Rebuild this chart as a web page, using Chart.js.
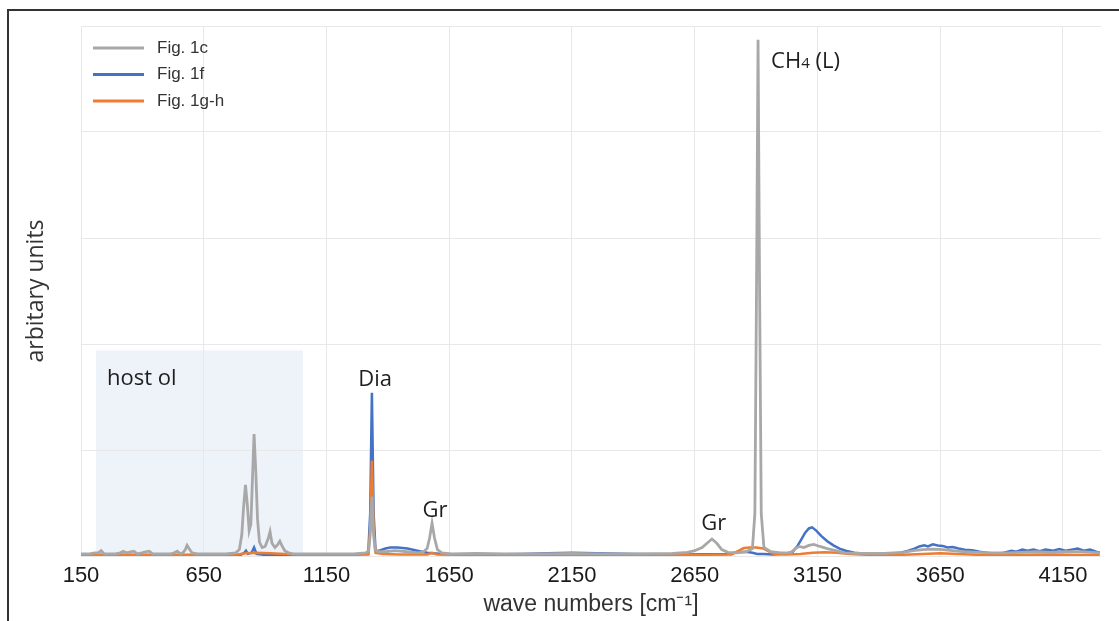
<!DOCTYPE html>
<html>
<head>
<meta charset="utf-8">
<title>Raman spectra</title>
<script src="https://cdn.jsdelivr.net/npm/chart.js@4.4.1/dist/chart.umd.min.js"></script>
<style>
    html, body { margin: 0; padding: 0; background: #fff; overflow: hidden; }
    #wrap { position: relative; width: 1119px; height: 621px; }
    #frame { position: absolute; left: 7px; top: 9px; width: 1300px; height: 800px;
             border-top: 2px solid #333; border-left: 2px solid #333; pointer-events: none; }
</style>
</head>
<body>
<div id="wrap">
    <canvas id="chartRaman" width="1119" height="621"></canvas>
    <div id="frame"></div>
</div>
<script>
// ====== datos ======
const tickLabels = [150, 650, 1150, 1650, 2150, 2650, 3150, 3650, 4150];
const seriesNames = ["Fig. 1c", "Fig. 1f", "Fig. 1g-h"];

// [wave number, intensity]
const fig1c = [
    [150,0.02],[185,0.02],[205,0.03],[220,0.03],[232,0.05],[245,0.02],[290,0.02],[310,0.03],
    [322,0.045],[335,0.03],[352,0.04],[365,0.045],[380,0.02],[398,0.03],[412,0.04],[428,0.045],
    [442,0.02],[470,0.02],[515,0.02],[530,0.03],[542,0.045],[555,0.02],[565,0.03],[575,0.06],
    [582,0.1],[590,0.07],[602,0.03],[625,0.02],[680,0.02],[740,0.02],[780,0.03],[795,0.06],
    [805,0.2],[812,0.45],[820,0.67],[827,0.5],[835,0.24],[842,0.3],[848,0.7],[855,1.15],
    [862,0.8],[869,0.35],[877,0.13],[888,0.08],[900,0.09],[912,0.16],[920,0.23],[928,0.12],
    [940,0.08],[952,0.11],[960,0.14],[968,0.1],[980,0.05],[995,0.03],[1015,0.02],[1080,0.02],
    [1180,0.02],[1260,0.02],[1310,0.03],[1322,0.05],[1328,0.2],[1335,0.56],[1342,0.2],[1348,0.06],
    [1360,0.04],[1390,0.04],[1430,0.05],[1480,0.04],[1520,0.03],[1545,0.04],[1560,0.07],[1570,0.17],
    [1580,0.31],[1590,0.17],[1602,0.06],[1620,0.03],[1660,0.02],[1760,0.025],[1880,0.02],[2000,0.02],
    [2150,0.025],[2280,0.02],[2420,0.02],[2560,0.025],[2620,0.035],[2650,0.05],[2680,0.08],[2700,0.12],
    [2720,0.16],[2740,0.12],[2760,0.06],[2785,0.035],[2820,0.03],[2860,0.04],[2885,0.07],[2895,0.4],
    [2902,2.6],[2908,4.87],[2914,2.6],[2921,0.4],[2932,0.08],[2960,0.04],[3000,0.03],[3040,0.03],
    [3060,0.07],[3075,0.09],[3095,0.08],[3115,0.1],[3135,0.11],[3160,0.09],[3190,0.07],[3225,0.05],
    [3260,0.03],[3320,0.025],[3420,0.025],[3500,0.035],[3540,0.05],[3580,0.06],[3620,0.065],[3660,0.06],
    [3700,0.05],[3750,0.04],[3800,0.035],[3860,0.03],[3920,0.03],[3980,0.035],[4040,0.04],[4100,0.035],
    [4160,0.04],[4220,0.04],[4270,0.035],[4300,0.03]
];

const fig1f = [
    [150,0.01],[400,0.01],[700,0.01],[800,0.01],[815,0.03],[822,0.05],[830,0.02],[845,0.03],
    [855,0.08],[865,0.02],[900,0.01],[1200,0.01],[1320,0.02],[1328,0.4],[1335,1.54],[1342,0.4],
    [1350,0.05],[1365,0.05],[1390,0.07],[1410,0.08],[1440,0.08],[1480,0.07],[1520,0.05],[1560,0.03],
    [1620,0.02],[1800,0.015],[1950,0.02],[2050,0.025],[2150,0.03],[2250,0.025],[2400,0.02],[2600,0.015],
    [2780,0.02],[2830,0.035],[2860,0.04],[2885,0.03],[2905,0.02],[2930,0.02],[2970,0.015],[3020,0.02],
    [3050,0.04],[3070,0.1],[3085,0.16],[3100,0.22],[3115,0.26],[3128,0.27],[3145,0.24],[3165,0.19],
    [3190,0.14],[3215,0.1],[3240,0.07],[3265,0.05],[3300,0.03],[3360,0.02],[3440,0.02],[3490,0.03],
    [3520,0.05],[3545,0.07],[3565,0.09],[3585,0.1],[3600,0.09],[3620,0.11],[3640,0.1],[3660,0.095],
    [3680,0.08],[3700,0.085],[3725,0.07],[3750,0.06],[3780,0.055],[3810,0.04],[3840,0.03],[3880,0.02],
    [3910,0.03],[3940,0.05],[3960,0.04],[3985,0.06],[4005,0.05],[4030,0.06],[4055,0.045],[4080,0.06],
    [4110,0.05],[4135,0.065],[4160,0.05],[4185,0.06],[4210,0.07],[4235,0.05],[4260,0.06],[4285,0.04],
    [4300,0.03]
];

const fig1gh = [
    [150,0.01],[300,0.012],[500,0.01],[700,0.01],[790,0.015],[820,0.025],[860,0.03],[920,0.025],
    [980,0.02],[1040,0.01],[1200,0.01],[1320,0.015],[1328,0.25],[1335,0.9],[1342,0.25],[1350,0.03],
    [1380,0.02],[1450,0.015],[1560,0.015],[1580,0.03],[1600,0.015],[1800,0.01],[2100,0.01],[2400,0.012],
    [2650,0.01],[2800,0.015],[2830,0.05],[2850,0.075],[2875,0.08],[2900,0.08],[2930,0.07],[2950,0.045],
    [2970,0.02],[3020,0.015],[3080,0.02],[3130,0.03],[3180,0.035],[3230,0.03],[3280,0.02],[3350,0.012],
    [3500,0.012],[3580,0.02],[3650,0.025],[3720,0.02],[3800,0.012],[3950,0.01],[4100,0.015],[4200,0.01],
    [4300,0.01]
];

// zona sombreada y etiquetas de picos (en unidades de datos)
const hostBox = { from: 211, to: 1054, top: 1.94 };
const peakLabels = [
    { text: "host ol", x: 256, y: 1.61, align: "left" },
    { text: "Dia", x: 1348, y: 1.60, align: "center" },
    { text: "Gr", x: 1592, y: 0.37, align: "center" },
    { text: "Gr", x: 2728, y: 0.245, align: "center" },
    { text: "CH", sub: "4", tail: " (L)", x: 2961, y: 4.6, align: "left" }
];

const colors = ["#a8a8a8", "#4472c4", "#ed7d31"];
const toPoints = (arr) => arr.map(p => ({ x: p[0], y: p[1] }));

// ====== plugin: caja "host ol", etiquetas y leyenda ======
const notesPlugin = {
    id: "ramanNotes",
    beforeDraw(chart) {
        const { ctx, scales: { x, y } } = chart;
        const l = x.getPixelForValue(hostBox.from);
        const r = x.getPixelForValue(hostBox.to);
        const t = y.getPixelForValue(hostBox.top);
        const b = y.getPixelForValue(0);
        ctx.save();
        ctx.fillStyle = "#eef3fa";
        ctx.fillRect(l, t, r - l, b - t);
        ctx.restore();
    },
    afterDatasetsDraw(chart) {
        const { ctx, chartArea, scales: { x, y } } = chart;
        ctx.save();
        ctx.fillStyle = "#1e1e1e";
        ctx.textBaseline = "alphabetic";
        const big = "22px 'Open Sans'";
        const small = "15px 'Open Sans'";
        peakLabels.forEach(lb => {
            const px = x.getPixelForValue(lb.x);
            const py = y.getPixelForValue(lb.y);
            ctx.font = big;
            if (lb.sub) {
                ctx.textAlign = "left";
                let cx = px;
                ctx.fillText(lb.text, cx, py);
                cx += ctx.measureText(lb.text).width;
                ctx.font = small;
                ctx.fillText(lb.sub, cx, py);
                cx += ctx.measureText(lb.sub).width;
                ctx.font = big;
                ctx.fillText(lb.tail, cx, py);
            } else {
                ctx.textAlign = lb.align;
                ctx.fillText(lb.text, px, py);
            }
        });

        // leyenda dentro del área del gráfico
        ctx.font = "17px 'Liberation Sans', Arial, sans-serif";
        ctx.textAlign = "left";
        ctx.textBaseline = "middle";
        seriesNames.forEach((name, i) => {
            const ly = chartArea.top + 22 + i * 26.5;
            const lx = chartArea.left + 12;
            ctx.strokeStyle = colors[i];
            ctx.lineWidth = 3;
            ctx.beginPath();
            ctx.moveTo(lx, ly);
            ctx.lineTo(lx + 51, ly);
            ctx.stroke();
            ctx.fillStyle = "#333";
            ctx.fillText(name, lx + 64, ly);
        });
        ctx.restore();
    }
};

window.addEventListener("DOMContentLoaded", () => {
    const canvas = document.getElementById("chartRaman");
    const ctx = canvas.getContext("2d");

    new Chart(ctx, {
        type: "line",
        data: {
            datasets: [
                { label: seriesNames[0], data: toPoints(fig1c), borderColor: colors[0], borderWidth: 2.8, order: 0 },
                { label: seriesNames[1], data: toPoints(fig1f), borderColor: colors[1], order: 2 },
                { label: seriesNames[2], data: toPoints(fig1gh), borderColor: colors[2], order: 1 }
            ]
        },
        options: {
            responsive: false,
            animation: false,
            layout: { padding: { top: 26, right: 18, bottom: 0, left: 0 } },
            elements: {
                point: { radius: 0 },
                line: { tension: 0, borderWidth: 2.5, fill: false }
            },
            plugins: {
                legend: { display: false },
                tooltip: { enabled: false }
            },
            scales: {
                x: {
                    type: "linear",
                    min: 150,
                    max: 4305,
                    afterBuildTicks: (s) => { s.ticks = tickLabels.map(v => ({ value: v })); },
                    afterFit: (s) => { s.height = 65; },
                    grid: { color: "#e8e8e8", drawTicks: false },
                    border: { display: false },
                    ticks: {
                        padding: 7,
                        autoSkip: false,
                        maxRotation: 0,
                        color: "#1a1a1a",
                        font: { family: "'Liberation Sans', Arial, sans-serif", size: 22 },
                        callback: (val) => String(val)
                    },
                    title: {
                        display: true,
                        text: "wave numbers [cm⁻¹]",
                        color: "#333",
                        font: { family: "'Liberation Sans', Arial, sans-serif", size: 23 },
                        padding: { top: 0, bottom: 3 }
                    }
                },
                y: {
                    min: 0,
                    max: 5,
                    afterFit: (s) => { s.width = 81; },
                    grid: { color: "#e8e8e8", drawTicks: false },
                    border: { display: false },
                    ticks: { display: false, stepSize: 1 },
                    title: {
                        display: true,
                        text: "arbitary units",
                        color: "#333",
                        font: { family: "'Open Sans'", size: 23 },
                        padding: { top: 23, bottom: 0 }
                    }
                }
            }
        },
        plugins: [notesPlugin]
    });
});
</script>
</body>
</html>
